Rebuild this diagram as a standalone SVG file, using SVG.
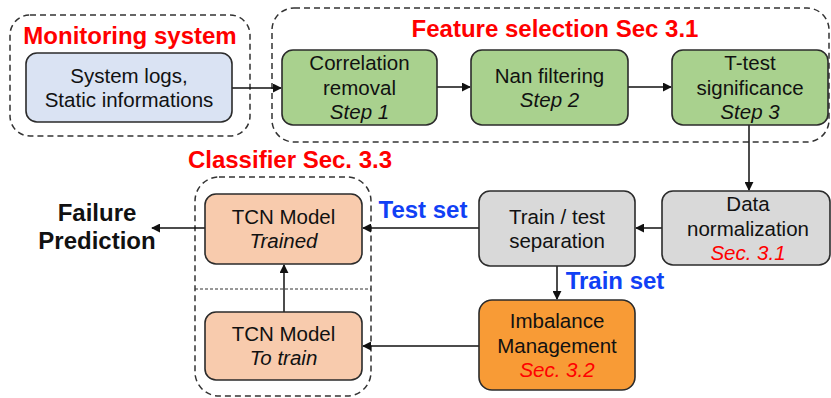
<svg xmlns="http://www.w3.org/2000/svg" width="831" height="398" viewBox="0 0 831 398">
<style>
text{font-family:"Liberation Sans",Arial,sans-serif;}
.t{font-size:20.5px;fill:#111;text-anchor:middle;}
.i{font-style:italic;}
.r{fill:#ff0000;}
.h{font-size:24px;font-weight:bold;}
.box{stroke:#2b2b2b;stroke-width:1.6;}
.grp{fill:none;stroke:#333;stroke-width:1.5;stroke-dasharray:6,4;}
.ln{stroke:#111;stroke-width:1.5;fill:none;marker-end:url(#ah);}
</style>
<defs>
<marker id="ah" viewBox="0 0 10 10" refX="9" refY="5" markerWidth="9" markerHeight="9" markerUnits="userSpaceOnUse" orient="auto">
<path d="M0,0 L10,5 L0,10 z" fill="#111"/>
</marker>
</defs>

<g id="grp-monitoring">
<rect class="grp" x="10" y="15" width="240" height="121" rx="20"/>
<text class="h r" x="130" y="44" text-anchor="middle">Monitoring system</text>
</g>
<g id="grp-feature">
<rect class="grp" x="272" y="8" width="557" height="134" rx="22"/>
<text class="h r" x="555" y="37" text-anchor="middle">Feature selection Sec 3.1</text>
</g>
<g id="grp-classifier">
<rect class="grp" x="195" y="177" width="176" height="219" rx="24"/>
<line x1="195" y1="289" x2="371" y2="289" stroke="#333" stroke-width="1" stroke-dasharray="3,2"/>
<text class="h r" x="290" y="168" text-anchor="middle">Classifier Sec. 3.3</text>
</g>

<g id="connectors">
<line class="ln" x1="232" y1="88" x2="281" y2="88"/>
<line class="ln" x1="437" y1="87" x2="470" y2="87"/>
<line class="ln" x1="628" y1="87" x2="671" y2="87"/>
<line class="ln" x1="749" y1="125" x2="749" y2="190"/>
<line class="ln" x1="662" y1="228" x2="636" y2="228"/>
<line class="ln" x1="479" y1="228" x2="363" y2="228"/>
<line class="ln" x1="557" y1="266" x2="557" y2="299"/>
<line class="ln" x1="479" y1="346" x2="363" y2="346"/>
<line class="ln" x1="284" y1="312" x2="284" y2="265"/>
<line class="ln" x1="205" y1="228" x2="152" y2="228"/>
<text class="h" x="423" y="218" fill="#1040f5" text-anchor="middle">Test set</text>
<text class="h" x="615" y="289" fill="#1040f5" text-anchor="middle">Train set</text>
</g>

<g id="n-logs">
<rect class="box" x="26" y="53" width="206" height="69" rx="11" fill="#dae3f3"/>
<text class="t" x="129" y="83">System logs,</text>
<text class="t" x="129" y="107">Static informations</text>
</g>
<g id="n-corr">
<rect class="box" x="282" y="50" width="155" height="75" rx="11" fill="#a9d18e"/>
<text class="t" x="359.5" y="70">Correlation</text>
<text class="t" x="359.5" y="95">removal</text>
<text class="t i" x="359.5" y="119">Step 1</text>
</g>
<g id="n-nan">
<rect class="box" x="471" y="50" width="157" height="75" rx="11" fill="#a9d18e"/>
<text class="t" x="549.5" y="83">Nan filtering</text>
<text class="t i" x="549.5" y="107">Step 2</text>
</g>
<g id="n-ttest">
<rect class="box" x="672" y="50" width="156" height="75" rx="11" fill="#a9d18e"/>
<text class="t" x="750" y="70">T-test</text>
<text class="t" x="750" y="95">significance</text>
<text class="t i" x="750" y="119">Step 3</text>
</g>
<g id="n-norm">
<rect class="box" x="662" y="191" width="168" height="74" rx="11" fill="#d9d9d9"/>
<text class="t" x="748" y="211">Data</text>
<text class="t" x="748" y="235.5">normalization</text>
<text class="t i r" x="748" y="260">Sec. 3.1</text>
</g>
<g id="n-split">
<rect class="box" x="479" y="191" width="156" height="75" rx="11" fill="#d9d9d9"/>
<text class="t" x="557" y="223.5">Train / test</text>
<text class="t" x="557" y="248">separation</text>
</g>
<g id="n-imb">
<rect class="box" x="479" y="300" width="156" height="90" rx="13" fill="#f89b36"/>
<text class="t" x="557" y="328">Imbalance</text>
<text class="t" x="557" y="352.5">Management</text>
<text class="t i r" x="557" y="377">Sec. 3.2</text>
</g>
<g id="n-trained">
<rect class="box" x="205" y="194" width="157" height="70" rx="11" fill="#f8cbad"/>
<text class="t" x="283.5" y="224">TCN Model</text>
<text class="t i" x="283.5" y="248">Trained</text>
</g>
<g id="n-totrain">
<rect class="box" x="205" y="312" width="157" height="68" rx="11" fill="#f8cbad"/>
<text class="t" x="283.5" y="341">TCN Model</text>
<text class="t i" x="283.5" y="365">To train</text>
</g>
<g id="n-failure">
<text class="h" x="97" y="221" fill="#111" text-anchor="middle">Failure</text>
<text class="h" x="97" y="249" fill="#111" text-anchor="middle">Prediction</text>
</g>
</svg>
